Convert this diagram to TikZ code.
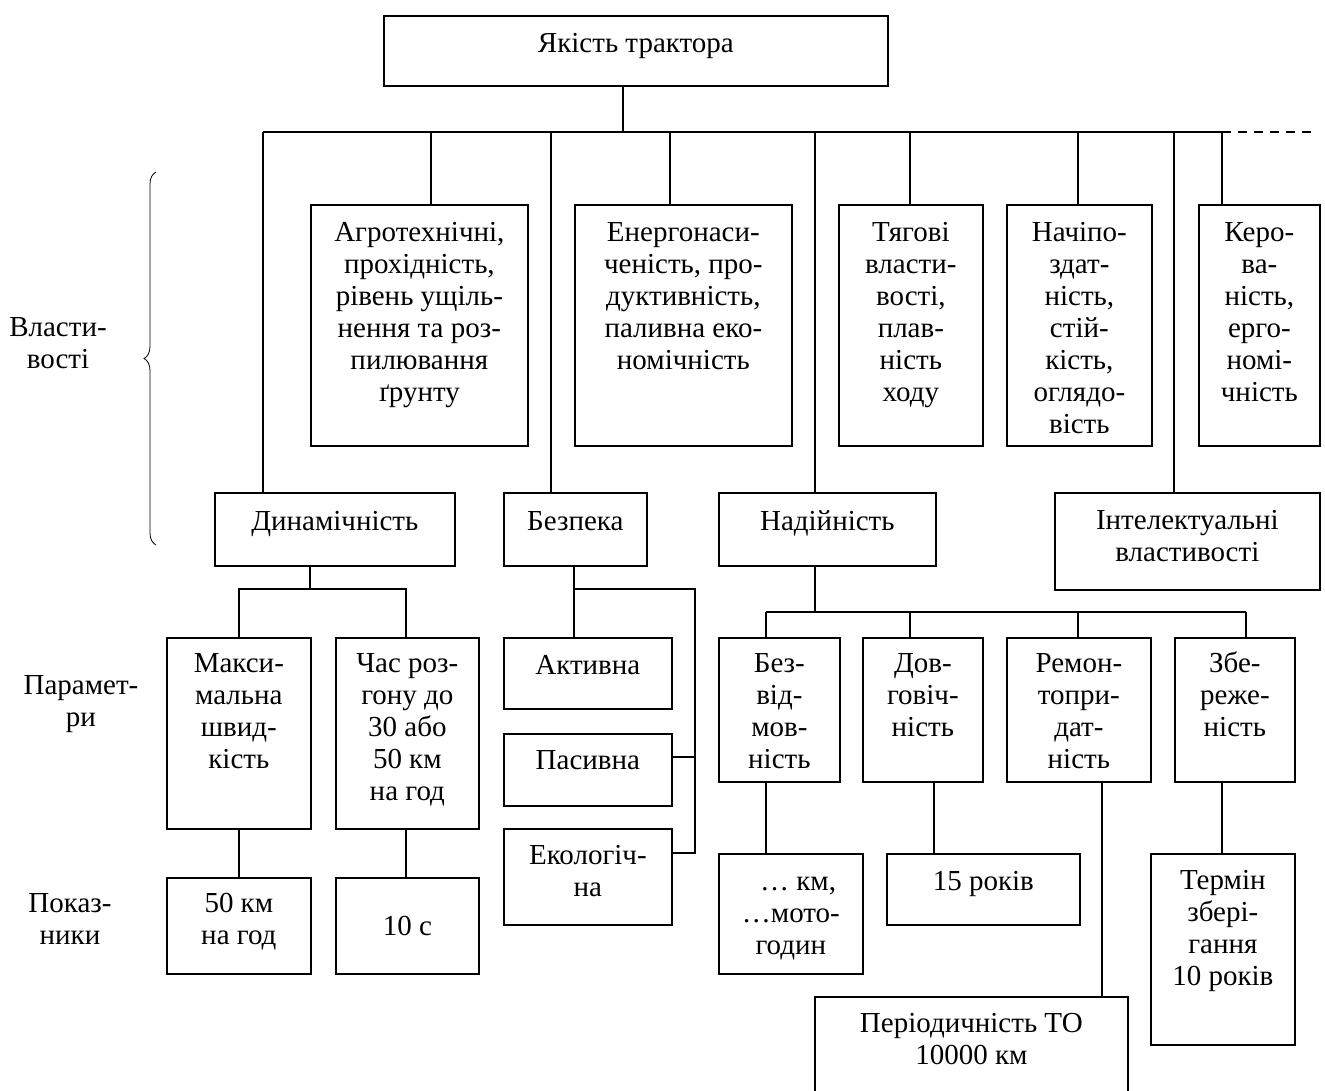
\documentclass[tikz,border=0pt]{standalone}
\usepackage{fontspec}
\setmainfont{Liberation Serif}
\usetikzlibrary{decorations.pathreplacing}
\newcommand\boxtext[4]{\parbox[t][#2][t]{#1}{\centering\rule{0pt}{#3}#4}}
\begin{document}
\begin{tikzpicture}[x=1pt,y=-1pt,
  box/.style={draw, line width=1.7pt, inner sep=0pt, anchor=north west, font=\fontsize{29}{32}\selectfont},
  link/.style={line width=1.5pt},
  lbl/.style={align=center, inner sep=0pt, font=\fontsize{29}{32}\selectfont}]
\useasboundingbox[fill=white] (0,0) rectangle (1325,1091);
\clip (0,0) rectangle (1325,1091);

% boxes
\node[box] (top) at (383,15) {\boxtext{504pt}{70pt}{37pt}{Якість трактора}};
\node[box] (agro) at (310,204) {\boxtext{217pt}{241pt}{37pt}{Агротехнічні,\\прохідність,\\рівень ущіль-\\нення та роз-\\пилювання\\ґрунту}};
\node[box] (energo) at (574,204) {\boxtext{217pt}{241pt}{37pt}{Енергонаси-\\ченість, про-\\дуктивність,\\паливна еко-\\номічність}};
\node[box] (tyag) at (838,204) {\boxtext{144pt}{241pt}{37pt}{Тягові\\власти-\\вості,\\плав-\\ність\\ходу}};
\node[box] (nachip) at (1006,204) {\boxtext{145pt}{241pt}{37pt}{Начіпо-\\здат-\\ність,\\стій-\\кість,\\оглядо-\\вість}};
\node[box] (kero) at (1198,204) {\boxtext{121pt}{241pt}{37pt}{Керо-\\ва-\\ність,\\ерго-\\номі-\\чність}};
\node[box] (dyn) at (214,492) {\boxtext{240pt}{73pt}{38pt}{Динамічність}};
\node[box] (bez) at (503,492) {\boxtext{143pt}{73pt}{38pt}{Безпека}};
\node[box] (nad) at (718,492) {\boxtext{217pt}{73pt}{38pt}{Надійність}};
\node[box] (intel) at (1054,492) {\boxtext{265pt}{97pt}{37pt}{Інтелектуальні\\властивості}};
\node[box] (maks) at (166,637) {\boxtext{144pt}{191pt}{35pt}{Макси-\\мальна\\швид-\\кість}};
\node[box] (chas) at (335,637) {\boxtext{143pt}{191pt}{35pt}{Час роз-\\гону до\\30 або\\50 км\\на год}};
\node[box] (akt) at (503,637) {\boxtext{168pt}{71pt}{37pt}{Активна}};
\node[box] (pas) at (503,733) {\boxtext{168pt}{72pt}{36pt}{Пасивна}};
\node[box] (eko) at (503,828) {\boxtext{168pt}{96pt}{36pt}{Екологіч-\\на}};
\node[box] (bezv) at (718,637) {\boxtext{121pt}{144pt}{35pt}{Без-\\від-\\мов-\\ність}};
\node[box] (dovg) at (862,637) {\boxtext{120pt}{144pt}{35pt}{Дов-\\говіч-\\ність}};
\node[box] (rem) at (1006,637) {\boxtext{144pt}{144pt}{35pt}{Ремон-\\топри-\\дат-\\ність}};
\node[box] (zber) at (1174,637) {\boxtext{120pt}{144pt}{35pt}{Збе-\\реже-\\ність}};
\node[box] (p50) at (166,877) {\boxtext{144pt}{96pt}{35pt}{50 км\\на год}};
\node[box] (p10) at (335,877) {\boxtext{143pt}{96pt}{58pt}{10 с}};
\node[box] (kmmoto) at (718,853) {\boxtext{144pt}{120pt}{37pt}{\ \ … км,\\…мото-\\годин}};
\node[box] (r15) at (886,853) {\boxtext{193pt}{71pt}{37pt}{15 років}};
\node[box] (term) at (1150,853) {\boxtext{144pt}{191pt}{36pt}{Термін\\збері-\\гання\\10 років}};
\node[box] (period) at (814,996) {\boxtext{313pt}{110pt}{36pt}{Періодичність ТО\\10000 км}};

% side labels
\node[lbl] (lv) at (58,343) {Власти-\\вості};
\node[lbl] (lp) at (81,704) {Парамет-\\ри};
\node[lbl] (li) at (70,919) {Показ-\\ники};
\coordinate (brB) at (156,545);
\coordinate (brT) at (156,172);
\draw[line width=0.8pt, decorate, decoration={brace, amplitude=12pt}] (brB) -- (brT);

% main bus
\coordinate (t) at (623,132);
\coordinate (b0) at (263,132);
\coordinate (b1) at (431,132);
\coordinate (b2) at (551,132);
\coordinate (b3) at (670,132);
\coordinate (b4) at (815,132);
\coordinate (b5) at (910,132);
\coordinate (b6) at (1078,132);
\coordinate (b7) at (1174,132);
\coordinate (b8) at (1222,132);
\coordinate (bend) at (1313,132);
\draw[link] (top.south -| t) -- (t);
\draw[link] (b0) -- (b8);
\draw[link, dash pattern=on 9pt off 7pt] (b8) -- (bend);
\draw[link] (b0) -- (b0 |- dyn.north);
\draw[link] (b1) -- (b1 |- agro.north);
\draw[link] (b2) -- (b2 |- bez.north);
\draw[link] (b3) -- (b3 |- energo.north);
\draw[link] (b4) -- (b4 |- nad.north);
\draw[link] (b5) -- (b5 |- tyag.north);
\draw[link] (b6) -- (b6 |- nachip.north);
\draw[link] (b7) -- (b7 |- intel.north);
\draw[link] (b8) -- (b8 |- kero.north);

% dynamics
\coordinate (d0) at (310,589);
\coordinate (dL) at (239,589);
\coordinate (dR) at (406,589);
\draw[link] (d0 |- dyn.south) -- (d0);
\draw[link] (dL |- maks.north) -- (dL) -- (dR) -- (dR |- chas.north);
\draw[link] (dL |- maks.south) -- (dL |- p50.north);
\draw[link] (dR |- chas.south) -- (dR |- p10.north);

% safety
\coordinate (s0) at (574,589);
\coordinate (sR) at (695,589);
\coordinate (sP) at (695,757);
\coordinate (sE) at (695,853);
\draw[link] (s0 |- bez.south) -- (s0 |- akt.north);
\draw[link] (s0) -- (sR) -- (sE) -- (sE -| eko.east);
\draw[link] (sP) -- (sP -| pas.east);

% reliability
\coordinate (n0) at (815,612);
\coordinate (nL) at (766,612);
\coordinate (n2) at (910,612);
\coordinate (n3) at (1078,612);
\coordinate (nR) at (1246,612);
\draw[link] (n0 |- nad.south) -- (n0);
\draw[link] (nL) -- (nR);
\draw[link] (nL) -- (nL |- bezv.north);
\draw[link] (n2) -- (n2 |- dovg.north);
\draw[link] (n3) -- (n3 |- rem.north);
\draw[link] (nR) -- (nR |- zber.north);
\coordinate (i2) at (934,853);
\coordinate (i3) at (1102,996);
\coordinate (i4) at (1222,853);
\draw[link] (nL |- bezv.south) -- (nL |- kmmoto.north);
\draw[link] (i2 |- dovg.south) -- (i2);
\draw[link] (i3 |- rem.south) -- (i3);
\draw[link] (i4 |- zber.south) -- (i4);
\end{tikzpicture}
\end{document}
